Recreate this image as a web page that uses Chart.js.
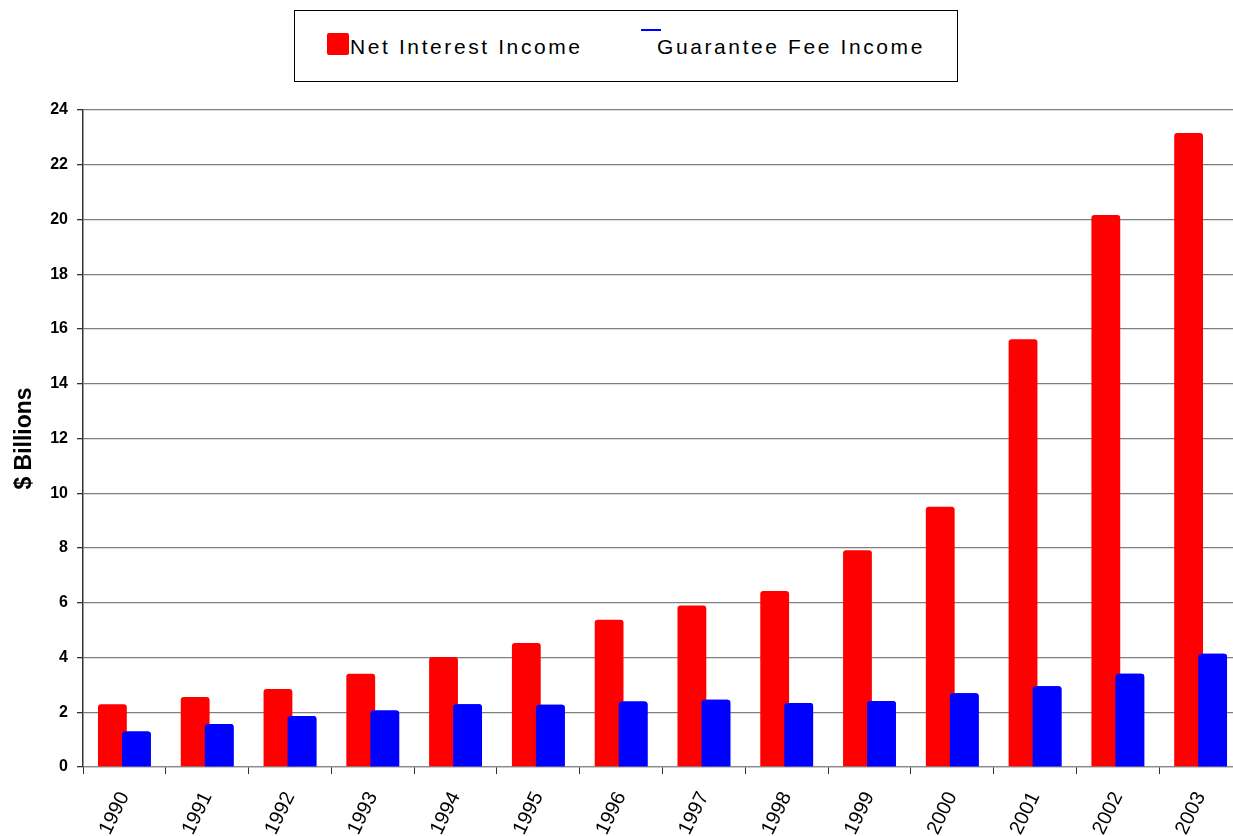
<!DOCTYPE html>
<html>
<head>
<meta charset="utf-8">
<script src="https://cdn.jsdelivr.net/npm/chart.js@4.4.1/dist/chart.umd.min.js"></script>
<style>
  html, body { margin: 0; padding: 0; background: #fff; overflow: hidden; }
  body { width: 1233px; height: 836px; position: relative; }
  #wrap { position: absolute; left: 0; top: 0; width: 1242px; height: 900px; }
  #legend {
    position: absolute; left: 294px; top: 10px; width: 662px; height: 70px;
    border: 1px solid #000; background: #fff;
    font-family: "Liberation Sans", Arial, sans-serif; font-size: 21px;
    letter-spacing: 2.6px; color: #000;
  }
  #legend .item { position: absolute; top: 23px; white-space: nowrap; line-height: 26px; }
  #legend .box { position: absolute; width: 22px; height: 22px; border-radius: 2px; }
  #legend .dash { position: absolute; width: 20px; height: 2px; }
</style>
</head>
<body>
<div id="wrap"><canvas id="income-chart"></canvas></div>
<div id="legend"></div>
<script>
const anos = ['1990', '1991', '1992', '1993', '1994', '1995', '1996',
              '1997', '1998', '1999', '2000', '2001', '2002', '2003'];
const juros = [2.29, 2.56, 2.85, 3.41, 4.02, 4.53, 5.38, 5.90, 6.43, 7.92, 9.51, 15.63, 20.16, 23.16];
const taxas = [1.30, 1.57, 1.86, 2.06, 2.29, 2.27, 2.39, 2.46, 2.34, 2.41, 2.69, 2.95, 3.41, 4.14];
const yTicks = [0, 2, 4, 6, 8, 10, 12, 14, 16, 18, 20, 22, 24];

const fonte = '"Liberation Sans", Arial, sans-serif';

// desenha a serie azul por cima da vermelha (as barras se sobrepoem um pouco)
const azulPorCima = {
  id: 'azulPorCima',
  afterDatasetsDraw(chart) {
    chart.getDatasetMeta(1).controller.draw();
  }
};

const ctx = document.getElementById('income-chart');
const chart = new Chart(ctx, {
  type: 'bar',
  data: {
    labels: anos,
    datasets: [{
      label: 'Net Interest Income',
      data: juros,
      backgroundColor: '#ff0000',
      borderRadius: { topLeft: 3, topRight: 3 },
      borderSkipped: 'bottom'
    }, {
      label: 'Guarantee Fee Income',
      data: taxas,
      backgroundColor: '#0000ff',
      borderRadius: { topLeft: 3, topRight: 3 },
      borderSkipped: 'bottom'
    }]
  },
  options: {
    responsive: true,
    maintainAspectRatio: false,
    animation: false,
    categoryPercentage: 0.58,
    barPercentage: 1.2,
    layout: { padding: { top: 110, right: 0, left: 0, bottom: 0 } },
    plugins: {
      legend: { display: false },
      tooltip: { enabled: false }
    },
    scales: {
      x: {
        afterFit: (s) => { s.height = 133; },
        border: { display: true, color: '#8a8a8a', width: 1.2 },
        grid: {
          offset: true,
          drawOnChartArea: false,
          drawTicks: true,
          tickLength: 7,
          tickColor: '#333'
        },
        ticks: {
          color: '#000',
          font: { family: fonte, size: 20 },
          minRotation: 64,
          maxRotation: 64,
          padding: 14,
          autoSkip: false
        }
      },
      y: {
        min: 0,
        max: 24,
        afterFit: (s) => { s.width = 83; },
        afterBuildTicks: (s) => { s.ticks = yTicks.map(v => ({ value: v })); },
        border: { display: true, color: '#333', width: 1.5 },
        grid: {
          color: '#7f7f7f',
          lineWidth: 1.3,
          tickLength: 6,
          tickColor: '#333'
        },
        ticks: {
          color: '#000',
          padding: 9,
          font: { family: fonte, size: 16, weight: 'bold' }
        },
        title: {
          display: true,
          text: '$ Billions',
          color: '#000',
          font: { family: fonte, size: 23, weight: 'bold' },
          padding: { top: 11, bottom: 0 }
        }
      }
    }
  },
  plugins: [azulPorCima]
});

// legenda em HTML, com os rotulos das series
const leg = document.getElementById('legend');
const itens = chart.data.datasets;
const x0 = [55, 362];
itens.forEach((ds, i) => {
  const el = document.createElement('div');
  el.className = 'item';
  el.style.left = x0[i] + 'px';
  el.textContent = ds.label;
  leg.appendChild(el);
  if (i === 0) {
    const b = document.createElement('div');
    b.className = 'box';
    b.style.left = '32px';
    b.style.top = '22px';
    b.style.background = ds.backgroundColor;
    leg.appendChild(b);
  } else {
    const d = document.createElement('div');
    d.className = 'dash';
    d.style.left = '346px';
    d.style.top = '18px';
    d.style.background = ds.backgroundColor;
    leg.appendChild(d);
  }
});
</script>
</body>
</html>
